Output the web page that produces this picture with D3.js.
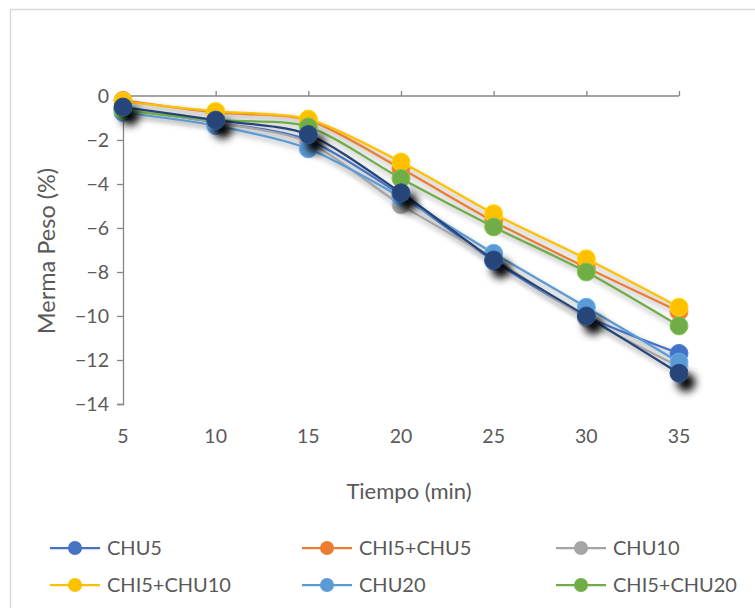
<!DOCTYPE html>
<html>
<head>
<meta charset="utf-8">
<script src="https://cdn.jsdelivr.net/npm/d3@7"></script>
<style>
  body { margin: 0; background: #fff; }
  text { font-family: Lato, "Liberation Sans", sans-serif; fill: #595959; }
</style>
</head>
<body>
<div id="chart"></div>
<script>
// tiempo (min)
const tiempos = [5, 10, 15, 20, 25, 30, 35];
const yTicks = [0, -2, -4, -6, -8, -10, -12, -14];

// merma de peso (%) por tratamiento
const chu5 = [-0.6, -1.2, -2.0, -4.5, -7.5, -10.0, -11.7];
const chi5chu5 = [-0.2, -0.75, -1.1, -3.3, -5.7, -7.8, -9.8];
const chu10 = [-0.55, -1.2, -2.1, -4.95, -7.4, -10.1, -12.3];
const chi5chu10 = [-0.25, -0.7, -1.05, -3.0, -5.35, -7.4, -9.6];
const chu20 = [-0.75, -1.35, -2.4, -4.6, -7.15, -9.6, -12.1];
const chi5chu20 = [-0.65, -1.1, -1.4, -3.75, -5.95, -8.0, -10.45];
// serie sin entrada en la leyenda (azul oscuro con sombra)
const oculta = [-0.5, -1.1, -1.75, -4.4, -7.45, -10.0, -12.6];

const seriesNames = ["CHU5", "CHI5+CHU5", "CHU10", "CHI5+CHU10", "CHU20", "CHI5+CHU20"];
const seriesColors = ["#4472C4", "#ED7D31", "#A5A5A5", "#FFC000", "#5B9BD5", "#70AD47"];

const series = [
  {name: seriesNames[0], color: seriesColors[0], values: chu5, legend: true},
  {name: seriesNames[1], color: seriesColors[1], values: chi5chu5, legend: true},
  {name: seriesNames[2], color: seriesColors[2], values: chu10, legend: true},
  {name: seriesNames[3], color: seriesColors[3], values: chi5chu10, legend: true},
  {name: seriesNames[4], color: seriesColors[4], values: chu20, legend: true},
  {name: seriesNames[5], color: seriesColors[5], values: chi5chu20, legend: true},
  {name: "oculta", color: "#264478", values: oculta, legend: false, shadow: true}
];

const W = 755, H = 608;
const svg = d3.select("#chart").append("svg")
  .attr("width", W).attr("height", H);

const defs = svg.append("defs");
defs.append("filter").attr("id", "lineGlow")
  .attr("x", "-10%").attr("y", "-10%").attr("width", "120%").attr("height", "130%")
  .append("feGaussianBlur").attr("stdDeviation", 2);
const ds = defs.append("filter").attr("id", "dropShadow")
  .attr("x", "-100%").attr("y", "-100%").attr("width", "300%").attr("height", "300%");
ds.append("feOffset").attr("in", "SourceAlpha").attr("dx", 7).attr("dy", 9).attr("result", "off");
ds.append("feGaussianBlur").attr("in", "off").attr("stdDeviation", 4).attr("result", "blur");
const merge = ds.append("feMerge");
merge.append("feMergeNode").attr("in", "blur");
merge.append("feMergeNode").attr("in", "SourceGraphic");

// chart border
svg.append("rect")
  .attr("x", 10.5).attr("y", 9.5).attr("width", W).attr("height", H)
  .attr("fill", "none").attr("stroke", "#d9d9d9").attr("stroke-width", 1.5);

const x = d3.scalePoint().domain(tiempos).range([123, 679]);
const y = d3.scaleLinear().domain([-14, 0]).range([404, 96]);

// y axis
const yAxis = svg.append("g")
  .attr("transform", "translate(123,0)")
  .call(d3.axisLeft(y).tickValues(yTicks).tickSize(6).tickPadding(8).tickFormat(d3.format("d")));
yAxis.selectAll("path, line").attr("stroke", "#868686").attr("stroke-width", 1.3);
yAxis.selectAll("text").style("font-size", "19.5px").attr("fill", "#595959")
  .style("font-family", "Lato, 'Liberation Sans', sans-serif");

// x axis line at y = 0, ticks up, labels low
const xAxis = svg.append("g")
  .attr("transform", "translate(0," + y(0) + ")")
  .call(d3.axisTop(x).tickSize(5).tickFormat(""));
xAxis.select(".domain").attr("d", "M" + x(5) + ",0H" + x(35));
xAxis.selectAll("path, line").attr("stroke", "#868686").attr("stroke-width", 1.3);

svg.append("g").selectAll("text")
  .data(tiempos).enter().append("text")
  .attr("x", d => x(d)).attr("y", 443)
  .attr("text-anchor", "middle")
  .style("font-size", "19.5px")
  .text(d => d);

// axis titles
svg.append("text")
  .attr("x", 409).attr("y", 499)
  .attr("text-anchor", "middle").style("font-size", "22px")
  .text("Tiempo (min)");
svg.append("text")
  .attr("transform", "translate(55,251) rotate(-90)")
  .attr("text-anchor", "middle").style("font-size", "23.5px")
  .text("Merma Peso (%)");

const line = d3.line()
  .x((d, i) => x(tiempos[i]))
  .y(d => y(d))
  .curve(d3.curveCardinal.tension(0.2));

// soft gray glow under the lines
svg.append("g").selectAll("path")
  .data(series).enter().append("path")
  .attr("d", d => line(d.values))
  .attr("transform", "translate(1,3)")
  .attr("fill", "none").attr("stroke", "#c8c8c8").attr("stroke-width", 6)
  .attr("opacity", 0.6)
  .attr("filter", "url(#lineGlow)");

const grp = svg.append("g").selectAll("g")
  .data(series).enter().append("g");

grp.append("path")
  .attr("d", d => line(d.values))
  .attr("fill", "none")
  .attr("stroke", d => d.color)
  .attr("stroke-width", 2.25);

grp.each(function(s) {
  d3.select(this).selectAll("circle")
    .data(s.values).enter().append("circle")
    .attr("cx", (d, i) => x(tiempos[i]))
    .attr("cy", d => y(d))
    .attr("r", 9)
    .attr("fill", s.color)
    .attr("stroke", d3.color(s.color).brighter(0.4))
    .attr("stroke-width", 1)
    .attr("filter", s.shadow ? "url(#dropShadow)" : null);
});

// legend
const legendItems = series.filter(s => s.legend);
const lx = [50, 302, 556], ly = [548, 585];
const leg = svg.append("g").selectAll("g")
  .data(legendItems).enter().append("g")
  .attr("transform", (d, i) => "translate(" + lx[i % 3] + "," + ly[Math.floor(i / 3)] + ")");
leg.append("line")
  .attr("x1", 0).attr("x2", 50).attr("y1", 0).attr("y2", 0)
  .attr("stroke", d => d.color).attr("stroke-width", 2.25);
leg.append("circle")
  .attr("cx", 25).attr("cy", 0).attr("r", 7)
  .attr("fill", d => d.color);
leg.append("text")
  .attr("x", 57).attr("y", 0).attr("dy", "0.35em")
  .style("font-size", "20px")
  .text(d => d.name);
</script>
</body>
</html>
